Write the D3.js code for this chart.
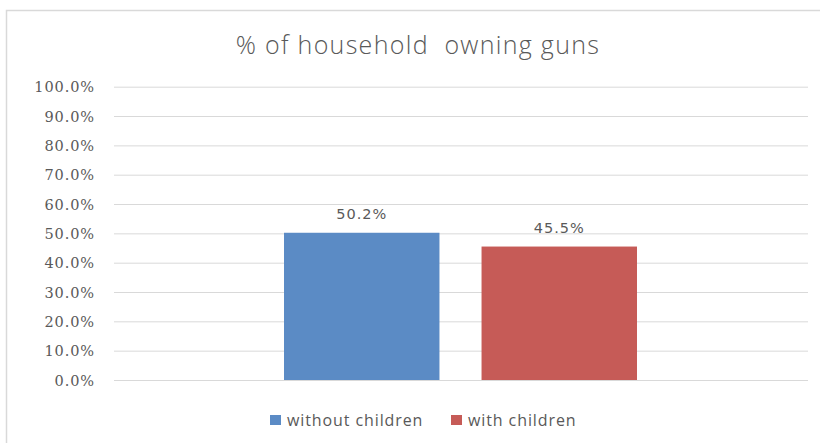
<!DOCTYPE html>
<html><head><meta charset="utf-8">
<script src="https://cdn.jsdelivr.net/npm/d3@7"></script>
<style>
html,body{margin:0;padding:0;background:#fff;}
svg{display:block;}
</style></head>
<body>
<svg id="chart" width="820" height="443"></svg>
<script>
const title = "% of household  owning guns";
const categories = [""];
const seriesNames = ["without children", "with children"];
const seriesValues = [0.502, 0.455];
const seriesColors = ["#5b8bc5", "#c65b57"];
const yTicks = [0, 0.1, 0.2, 0.3, 0.4, 0.5, 0.6, 0.7, 0.8, 0.9, 1.0];

const svg = d3.select("#chart");
const margin = {left: 114, top: 86.7};
const plotW = 808 - 114, plotH = 380 - 86.7;

// outer frame
svg.append("path").attr("d", "M6.5,443 V10.5 H820").attr("fill", "none").attr("stroke", "#d9d9d9").attr("stroke-width", 1.5);

svg.append("text").attr("x", 418).attr("y", 54).attr("text-anchor", "middle")
  .attr("font-family", "Open Sans").attr("font-weight", 300).attr("font-size", 25)
  .attr("letter-spacing", "1.3px")
  .attr("fill", "#595959").style("white-space", "pre").text(title);

const g = svg.append("g").attr("transform", `translate(${margin.left},${margin.top})`);
const y = d3.scaleLinear().domain([0, 1]).range([plotH, 0]);
const x0 = d3.scaleBand().domain(categories).range([0, plotW]).paddingInner(0).paddingOuter(0);
const x1 = d3.scaleBand().domain(seriesNames).range([170, 523]).paddingInner(0.213).paddingOuter(0);

// grid
const yAxis = d3.axisLeft(y).tickValues(yTicks).tickSize(-plotW).tickFormat(d3.format(".1%")).tickPadding(19);
const ga = g.append("g").call(yAxis);
ga.select(".domain").remove();
ga.selectAll(".tick line").attr("stroke", "#d9d9d9").attr("stroke-width", 1);
ga.selectAll(".tick text").attr("font-family", "DejaVu Serif").attr("font-size", 14.5)
  .attr("fill", "#595959").attr("letter-spacing", "0.9px").attr("dy", "0.35em");

const cat = g.append("g").attr("transform", `translate(${x0(categories[0])},0)`);
seriesNames.forEach((s, i) => {
  cat.append("rect").attr("x", x1(s)).attr("width", x1.bandwidth())
    .attr("y", y(seriesValues[i])).attr("height", plotH - y(seriesValues[i]))
    .attr("fill", seriesColors[i]);
  cat.append("text").attr("x", x1(s) + x1.bandwidth() / 2).attr("y", y(seriesValues[i]) - 14)
    .attr("text-anchor", "middle").attr("font-family", "DejaVu Sans").attr("font-size", 14.5)
    .attr("letter-spacing", "1px")
    .attr("fill", "#595959").text(d3.format(".1%")(seriesValues[i]));
});

// legend
const legendX = [270, 451];
seriesNames.forEach((s, i) => {
  const lg = svg.append("g").attr("transform", `translate(${legendX[i]},415)`);
  lg.append("rect").attr("width", 11).attr("height", 10).attr("fill", seriesColors[i]);
  lg.append("text").attr("x", 17).attr("y", 10.5).attr("font-family", "Open Sans")
    .attr("font-size", 16).attr("letter-spacing", "0.9px").attr("fill", "#595959").text(s);
});
</script>
</body></html>
